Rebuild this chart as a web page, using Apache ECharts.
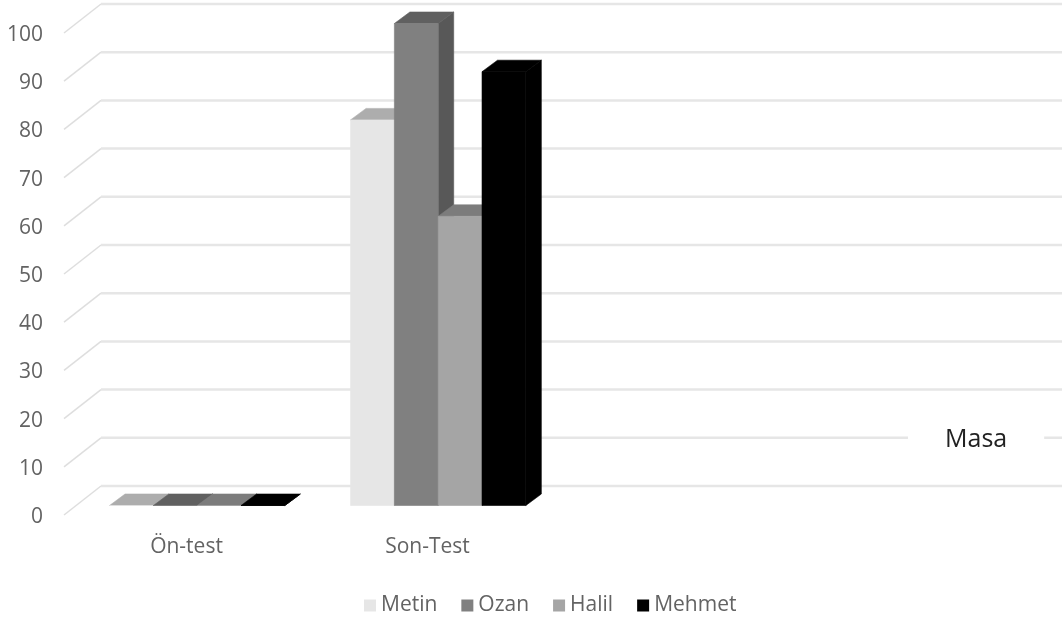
<!DOCTYPE html>
<html><head><meta charset="utf-8">
<style>html,body{margin:0;padding:0;background:#fff}#c{width:1062px;height:621px}</style>
<script src="https://cdn.jsdelivr.net/npm/echarts@6/dist/echarts.min.js"></script>
</head><body><div id="c"></div>
<script>
const categories = ['Ön-test', 'Son-Test', '', ''];
const yTicks = [0, 10, 20, 30, 40, 50, 60, 70, 80, 90, 100];
const metin = [0, 80];
const ozan = [0, 100];
const halil = [0, 60];
const mehmet = [0, 90];
const seriesNames = ['Metin', 'Ozan', 'Halil', 'Mehmet'];
const seriesValues = [metin, ozan, halil, mehmet];
const frontColors = ['#e6e6e6', '#808080', '#a5a5a5', '#000000'];
const topColors = ['#adadad', '#606060', '#7c7c7c', '#000000'];
const sideColors = ['#a0a0a0', '#585858', '#707070', '#000000'];
const FONT = '"Open Sans", "Noto Sans", sans-serif';
const WALL = [37, -29], BAR_FRONT = [12.7, -9.5], BAR_DEPTH = [15.5, -11.5];

const chart = echarts.init(document.getElementById('c'), null, {renderer: 'canvas'});

function wallItem(params, api) {
  const v = api.value(0);
  const band = api.size([1, 0])[0];
  const a = api.coord([0, v]);
  const x0 = a[0] - band / 2, y = a[1];
  const xb = x0 + WALL[0], yb = y + WALL[1];
  const xe = xb + band * categories.length;
  return {type: 'group', children: [
    {type: 'line', shape: {x1: x0, y1: y, x2: xb, y2: yb}, style: {stroke: '#dedede', lineWidth: 1.5}},
    {type: 'line', shape: {x1: xb, y1: yb, x2: xe, y2: yb}, style: {stroke: '#e6e6e6', lineWidth: 2.5}}
  ]};
}

function barItem(idx) {
  return function (params, api) {
    const c = api.coord([api.value(0), api.value(1)]);
    const c0 = api.coord([api.value(0), 0]);
    const band = api.size([1, 0])[0];
    const w = band / 5.5;
    const x = c[0] - band / 2 + BAR_FRONT[0] + w * 0.75 + w * idx;
    const top = c[1] + BAR_FRONT[1], bot = c0[1] + BAR_FRONT[1];
    const dx = BAR_DEPTH[0], dy = BAR_DEPTH[1];
    const poly = (pts, fill) => ({type: 'polygon', shape: {points: pts}, style: {fill: fill, stroke: fill, lineWidth: 0.6}});
    return {type: 'group', children: [
      poly([[x + w, top], [x + w + dx, top + dy], [x + w + dx, bot + dy], [x + w, bot]], sideColors[idx]),
      poly([[x, top], [x + dx, top + dy], [x + w + dx, top + dy], [x + w, top]], topColors[idx]),
      poly([[x, top], [x + w, top], [x + w, bot], [x, bot]], frontColors[idx])
    ]};
  };
}

const series = [{
  type: 'custom', name: 'wall', clip: false, silent: true, z: 1,
  renderItem: wallItem, encode: {y: 0},
  data: yTicks.map(t => [t])
}].concat(seriesNames.map((n, i) => ({
  type: 'custom', name: n, clip: false, z: 2 + i,
  renderItem: barItem(i),
  itemStyle: {color: frontColors[i]},
  encode: {x: 0, y: 1},
  data: seriesValues[i].map((v, k) => [k, v])
})));

chart.setOption({
  animation: false,
  backgroundColor: '#fff',
  title: {
    text: 'Masa', left: 908, top: 423, padding: [0, 37],
    backgroundColor: '#fff',
    textStyle: {fontFamily: FONT, fontSize: 25, fontWeight: 'normal', color: '#222', lineHeight: 34}
  },
  grid: {left: 64, top: 33, width: 964, height: 482},
  legend: {
    data: seriesNames, left: 359, top: 590, itemWidth: 12, itemHeight: 12, itemGap: 24,
    icon: 'rect',
    textStyle: {fontFamily: FONT, fontSize: 21, color: '#636363'}
  },
  xAxis: {
    type: 'category', data: categories,
    axisLine: {show: false}, axisTick: {show: false}, splitLine: {show: false},
    axisLabel: {interval: 0, margin: 22, fontFamily: FONT, fontSize: 21, color: '#636363', padding: [0, 0, 0, 4]}
  },
  yAxis: {
    type: 'value', min: 0, max: 100, interval: 10,
    axisLine: {show: false}, axisTick: {show: false}, splitLine: {show: false},
    axisLabel: {margin: 21, fontFamily: FONT, fontSize: 21, color: '#636363', verticalAlign: 'top', lineHeight: 24, padding: [-10, 0, 0, 0]}
  },
  series: series
});
</script></body></html>
